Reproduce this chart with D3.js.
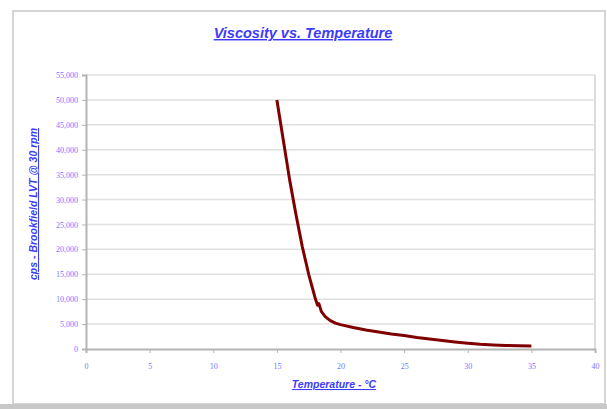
<!DOCTYPE html>
<html>
<head>
<meta charset="utf-8">
<script src="https://cdn.jsdelivr.net/npm/d3@7"></script>
<style>
  body { margin: 0; background: #fff; }
  text { font-family: "Liberation Sans", Arial, sans-serif; }
</style>
</head>
<body>
<div class="chart"></div>
<script>
// values
let temps = [15, 15.5, 16, 16.5, 17, 17.5, 18, 18.2, 18.3, 18.5, 18.8, 19.2, 19.6, 20, 21, 22, 23, 24, 25, 26, 27, 28, 29, 30, 31, 32, 33, 34, 35];
let viscosity = [50000, 42000, 34000, 27000, 20500, 15000, 10300, 8800, 9100, 7500, 6500, 5700, 5200, 4900, 4300, 3800, 3400, 3000, 2700, 2300, 2000, 1700, 1400, 1150, 950, 820, 720, 650, 600];
let xTicks = [0, 5, 10, 15, 20, 25, 30, 35, 40];
let yTicks = [0, 5000, 10000, 15000, 20000, 25000, 30000, 35000, 40000, 45000, 50000, 55000];

let data = temps.map((t, i) => ({ t: t, v: viscosity[i] }));

var W = 607, H = 409;
var margin = { top: 75, right: 12, bottom: 60, left: 86 },
    width = 595 - margin.left,
    height = 349 - margin.top;

var svg = d3.select(".chart").append("svg")
    .attr("width", W)
    .attr("height", H);

// chart frame
svg.append("rect").attr("x", 13).attr("y", 11).attr("width", 592).attr("height", 393)
    .attr("fill", "none").attr("stroke", "#c8c8c8").attr("stroke-width", 1.5);
svg.append("rect").attr("x", 0).attr("y", 404).attr("width", W).attr("height", 5).attr("fill", "#c8c8c8");

var g = svg.append("g")
    .attr("transform", "translate(" + margin.left + "," + margin.top + ")");

var x = d3.scaleLinear().domain([0, 40]).range([0, width]);
var y = d3.scaleLinear().domain([0, 55000]).range([height, 0]);

// gridlines
g.selectAll(".grid")
    .data(yTicks.slice(1))
    .enter().append("line")
    .attr("x1", 0).attr("x2", width)
    .attr("y1", d => y(d)).attr("y2", d => y(d))
    .attr("stroke", "#e0e0e0").attr("stroke-width", 1.5);

// plot area right border
g.append("line").attr("x1", width).attr("x2", width).attr("y1", 0).attr("y2", height)
    .attr("stroke", "#dcdcdc").attr("stroke-width", 2);

var fmt = d3.format(",");

// y axis
var yAxis = g.append("g")
    .call(d3.axisLeft(y).tickValues(yTicks).tickFormat(fmt).tickSize(4).tickPadding(4));
yAxis.select(".domain").attr("stroke", "#b4b4b4").attr("stroke-width", 2);
yAxis.selectAll(".tick line").attr("stroke", "#b4b4b4");
yAxis.selectAll("text").attr("fill", "#7777ff").attr("font-size", "8px")
    .style("font-family", "'Liberation Serif', 'Times New Roman', serif");

// x axis
var xAxis = g.append("g")
    .attr("transform", "translate(0," + height + ")")
    .call(d3.axisBottom(x).tickValues(xTicks).tickSize(4).tickPadding(10));
xAxis.select(".domain").attr("stroke", "#b4b4b4").attr("stroke-width", 2);
xAxis.selectAll(".tick line").attr("stroke", "#b4b4b4");
xAxis.selectAll("text").attr("fill", "#7777ff").attr("font-size", "8px")
    .style("font-family", "'Liberation Serif', 'Times New Roman', serif");

// the curve
var line = d3.line()
    .x(d => x(d.t))
    .y(d => y(d.v));

g.append("path")
    .datum(data)
    .attr("fill", "none")
    .attr("stroke", "#800000")
    .attr("stroke-width", 3)
    .attr("stroke-linejoin", "round")
    .attr("d", line);

// titles
function underlined(sel) {
    return sel.attr("fill", "#3c3cff")
        .attr("font-weight", "bold")
        .attr("font-style", "italic")
        .attr("text-decoration", "underline")
        .style("text-anchor", "middle");
}

underlined(svg.append("text")
    .attr("x", 303).attr("y", 38)
    .attr("font-size", "14.5px"))
    .text("Viscosity vs. Temperature");

underlined(svg.append("text")
    .attr("x", 334).attr("y", 388)
    .attr("font-size", "10.5px"))
    .text("Temperature - °C");

underlined(svg.append("text")
    .attr("transform", "translate(37,204) rotate(-90)")
    .attr("font-size", "10.5px"))
    .text("cps - Brookfield LVT @ 30 rpm");
</script>
</body>
</html>
